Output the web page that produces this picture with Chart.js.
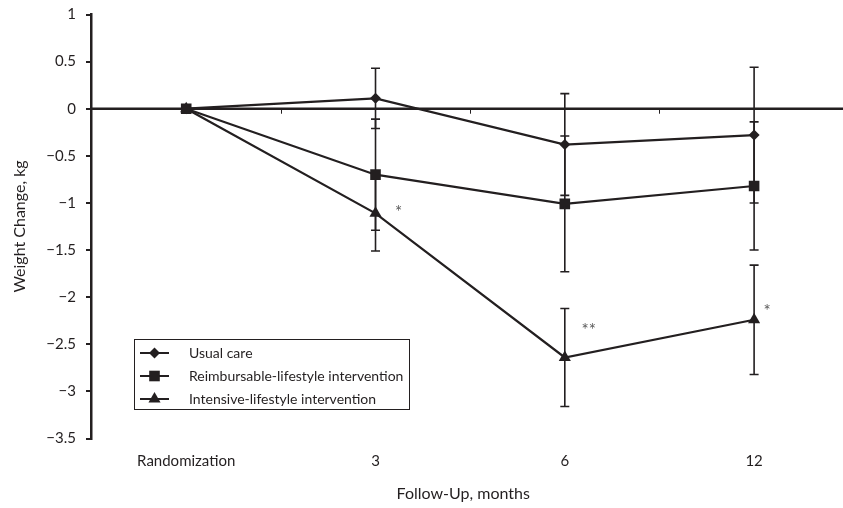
<!DOCTYPE html>
<html>
<head>
<meta charset="utf-8">
<script src="https://cdn.jsdelivr.net/npm/chart.js@4.4.1/dist/chart.umd.min.js"></script>
<style>
  html, body { margin: 0; padding: 0; background: #ffffff; }
  canvas { display: block; }
</style>
</head>
<body>
<canvas id="chart" width="843" height="508"></canvas>
<script>
// Follow-up time points
const xLabels = ['Randomization', '3', '6', '12'];

// Mean weight change (kg) and error-bar half widths per group
const usualCare = [0, 0.11, -0.38, -0.28];
const usualCareErr = [0, 0.32, 0.54, 0.72];
const reimbursable = [0, -0.70, -1.01, -0.82];
const reimbursableErr = [0, 0.59, 0.72, 0.68];
const intensive = [0, -1.11, -2.64, -2.24];
const intensiveErr = [0, 0.40, 0.52, 0.58];

const seriesNames = ['Usual care', 'Reimbursable-lifestyle intervention', 'Intensive-lifestyle intervention'];

// Significance markers: which series and time point they belong to
const sigSeries = [2, 2, 2];
const sigIndex = [1, 2, 3];
const sigText = ['*', '**', '*'];

// Y axis range and step
const yMin = -3.5, yMax = 1, yStep = 0.5;

// ---- styling ----
const INK = '#231f20';
const FONT = 'Lato, "Liberation Sans", Arial, sans-serif';
const pointStyles = [
  { pointStyle: 'rectRot', radius: 5.5 },
  { pointStyle: 'rect', radius: 7.5 },
  { pointStyle: 'triangle', radius: 7 }
];
const sigOffsets = [[23, -4], [24, -30], [13, -11]];

const values = [usualCare, reimbursable, intensive];
const errors = [usualCareErr, reimbursableErr, intensiveErr];

const datasets = values.map((vals, s) => ({
  label: seriesNames[s],
  data: vals.map((v, i) => ({ x: i, y: v })),
  errors: errors[s],
  borderColor: INK,
  backgroundColor: INK,
  borderWidth: 2.2,
  pointStyle: pointStyles[s].pointStyle,
  pointRadius: pointStyles[s].radius,
  pointHoverRadius: pointStyles[s].radius,
  pointBorderWidth: 0,
  pointBackgroundColor: INK,
  tension: 0,
  fill: false
}));

const fmt = v => {
  const r = Math.round(v * 10) / 10;
  return r < 0 ? '\u2212' + String(Math.abs(r)) : String(r);
};

// Zero reference line with small ticks between time points, plus error bars
const backdropPlugin = {
  id: 'backdrop',
  beforeDatasetsDraw(chart) {
    const { ctx, chartArea, scales: { x, y } } = chart;
    const y0 = y.getPixelForValue(0);
    ctx.save();
    ctx.strokeStyle = INK;
    ctx.lineWidth = 2.5;
    ctx.beginPath();
    ctx.moveTo(chartArea.left, y0);
    ctx.lineTo(chart.width, y0);
    ctx.stroke();
    ctx.lineWidth = 1;
    for (let i = 0; i < xLabels.length - 1; i++) {
      const px = Math.round(x.getPixelForValue(i + 0.5)) + 0.5;
      ctx.beginPath();
      ctx.moveTo(px, y0);
      ctx.lineTo(px, y0 + 5);
      ctx.stroke();
    }
    // error bars
    ctx.lineWidth = 1.6;
    chart.data.datasets.forEach((ds, s) => {
      const meta = chart.getDatasetMeta(s);
      ds.data.forEach((p, i) => {
        const e = ds.errors[i];
        if (!e) return;
        const px = meta.data[i].x;
        const top = y.getPixelForValue(p.y + e);
        const bot = y.getPixelForValue(p.y - e);
        ctx.beginPath();
        ctx.moveTo(px, top);
        ctx.lineTo(px, bot);
        ctx.moveTo(px - 4.5, top);
        ctx.lineTo(px + 4.5, top);
        ctx.moveTo(px - 4.5, bot);
        ctx.lineTo(px + 4.5, bot);
        ctx.stroke();
      });
    });
    ctx.restore();
  },
  afterDatasetsDraw(chart) {
    const { ctx } = chart;
    ctx.save();
    ctx.fillStyle = '#5a5a5a';
    ctx.font = '17px ' + FONT;
    ctx.textAlign = 'center';
    ctx.textBaseline = 'middle';
    sigText.forEach((t, k) => {
      const el = chart.getDatasetMeta(sigSeries[k]).data[sigIndex[k]];
      ctx.fillText(t, el.x + sigOffsets[k][0], el.y + sigOffsets[k][1] + 3);
    });
    ctx.restore();
  }
};

// Boxed legend inside the plot
const legendBoxPlugin = {
  id: 'legendBox',
  afterDraw(chart) {
    const { ctx } = chart;
    const box = { left: 134.5, top: 339.5, width: 275, height: 70 };
    const rows = [353, 376, 399];
    ctx.save();
    ctx.fillStyle = '#ffffff';
    ctx.fillRect(box.left, box.top, box.width, box.height);
    ctx.strokeStyle = INK;
    ctx.lineWidth = 1;
    ctx.strokeRect(box.left, box.top, box.width, box.height);
    chart.data.datasets.forEach((ds, s) => {
      const yy = rows[s];
      ctx.strokeStyle = INK;
      ctx.lineWidth = 2;
      ctx.beginPath();
      ctx.moveTo(140, yy);
      ctx.lineTo(169, yy);
      ctx.stroke();
      ctx.fillStyle = INK;
      Chart.helpers.drawPoint(ctx, {
        pointStyle: ds.pointStyle,
        radius: ds.pointRadius,
        rotation: 0,
        borderWidth: 0
      }, 154.5, yy);
      ctx.fillStyle = INK;
      ctx.font = '14px ' + FONT;
      ctx.textAlign = 'left';
      ctx.textBaseline = 'middle';
      ctx.fillText(ds.label, 189, yy);
    });
    ctx.restore();
  }
};

new Chart(document.getElementById('chart'), {
  type: 'line',
  data: { datasets },
  options: {
    responsive: false,
    devicePixelRatio: 1,
    animation: false,
    layout: { padding: { top: 14.5, right: 0, bottom: 0, left: 0 } },
    plugins: {
      legend: { display: false },
      tooltip: { enabled: false }
    },
    scales: {
      x: {
        type: 'linear',
        min: -0.503,
        max: 3.43,
        afterFit(scale) { scale.height = 69.5; },
        afterBuildTicks(scale) {
          scale.ticks = xLabels.map((_, i) => ({ value: i }));
        },
        border: { display: false },
        grid: { display: false, drawTicks: false },
        ticks: {
          autoSkip: false,
          maxRotation: 0,
          padding: 14,
          color: INK,
          font: { family: FONT, size: 15 },
          callback: v => xLabels[v]
        },
        title: {
          display: true,
          text: 'Follow-Up, months',
          color: INK,
          font: { family: FONT, size: 16 },
          padding: { top: 0, bottom: 5 }
        }
      },
      y: {
        min: yMin,
        max: yMax,
        afterFit(scale) {
          scale.width = 91;
          scale.paddingTop = 0;
          scale.paddingBottom = 0;
        },
        border: { display: true, color: INK, width: 2.5 },
        grid: {
          drawOnChartArea: false,
          drawTicks: true,
          tickLength: 5,
          color: INK,
          lineWidth: 2
        },
        ticks: {
          stepSize: yStep,
          padding: 10,
          color: INK,
          font: { family: FONT, size: 15 },
          callback: v => fmt(v)
        },
        title: {
          display: true,
          text: 'Weight Change, kg',
          color: INK,
          font: { family: FONT, size: 16 },
          padding: { top: 10, bottom: 0 }
        }
      }
    }
  },
  plugins: [backdropPlugin, legendBoxPlugin]
});
</script>
</body>
</html>
